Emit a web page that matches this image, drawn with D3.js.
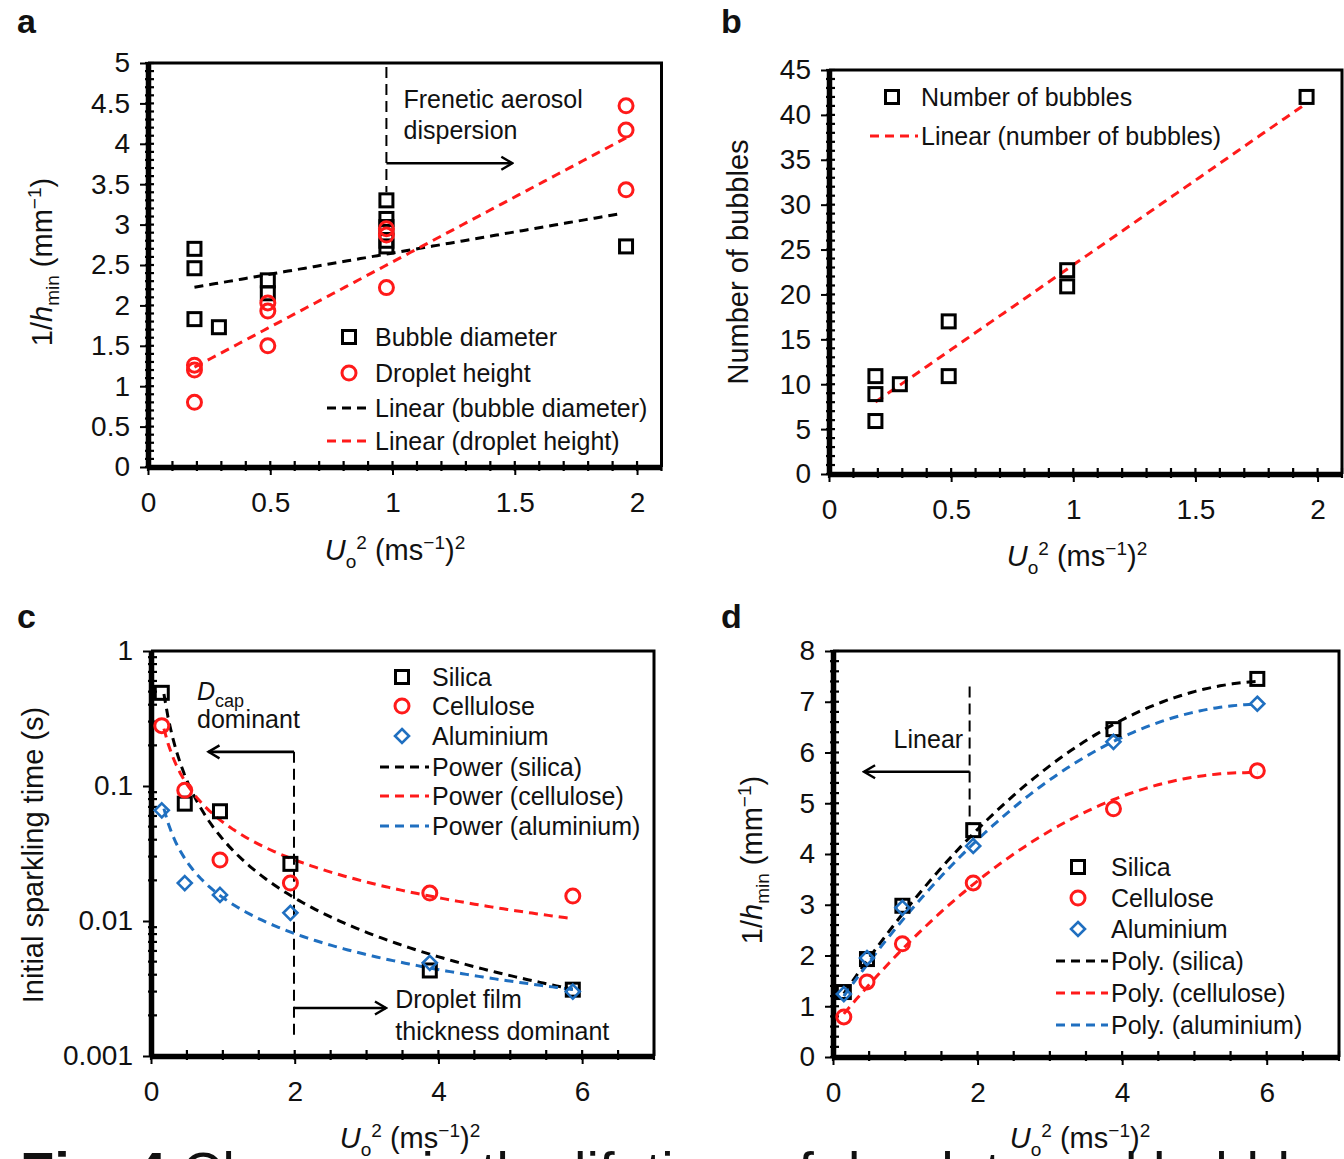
<!DOCTYPE html>
<html>
<head>
  <meta charset="utf-8">
  <title>Fig. 4</title>
  <script src="https://cdn.jsdelivr.net/npm/d3@7"></script>
  <style>
    body { margin: 0; background: #fff; }
    svg text { font-family: "Liberation Sans", Arial, sans-serif; fill: #111; }
  </style>
</head>
<body>
  <svg id="fig" width="1344" height="1159"></svg>
  <script>
    // ---- panel a : 1/hmin vs Uo^2
    var bubbleX = [0.19, 0.19, 0.19, 0.29, 0.49, 0.49, 0.975, 0.975, 0.975, 0.975, 0.975, 1.955];
    var bubbleY = [2.7, 2.46, 1.83, 1.73, 2.31, 2.15, 3.3, 3.07, 2.97, 2.8, 2.73, 2.73];
    var dropX = [0.19, 0.19, 0.19, 0.49, 0.49, 0.49, 0.975, 0.975, 0.975, 1.955, 1.955, 1.955];
    var dropY = [1.26, 1.2, 0.8, 2.03, 1.93, 1.5, 2.95, 2.87, 2.22, 4.47, 4.17, 3.43];
    var bubbleFit = [2.125, 0.523];   // intercept, slope
    var dropFit = [0.93, 1.608];

    // ---- panel b : number of bubbles
    var countX = [0.19, 0.19, 0.19, 0.29, 0.49, 0.49, 0.975, 0.975, 1.955];
    var countY = [10.9, 8.9, 5.9, 10, 17, 10.9, 22.7, 20.9, 42];
    var countFit = [4.43, 18.86];

    // ---- panels c, d : three materials
    var matX = [0.15, 0.47, 0.96, 1.94, 3.88, 5.87];
    var silicaTime = [0.49, 0.074, 0.065, 0.0265, 0.0043, 0.0031];
    var celluloseTime = [0.28, 0.093, 0.0283, 0.0191, 0.0161, 0.0153];
    var aluminiumTime = [0.066, 0.0191, 0.0156, 0.0115, 0.0049, 0.0030];
    var silicaPow = [0.0403, -1.445];  // a * x^b
    var cellulosePow = [0.054, -0.93];
    var aluminiumPow = [0.0149, -0.885];

    var silicaH = [1.28, 1.93, 2.98, 4.47, 6.46, 7.45];
    var celluloseH = [0.79, 1.48, 2.23, 3.43, 4.89, 5.64];
    var aluminiumH = [1.24, 1.95, 2.94, 4.16, 6.21, 6.96];
    var silicaPoly = [0.935, 2.124, -0.1742];
    var cellulosePoly = [0.592, 1.741, -0.1512];
    var aluminiumPoly = [0.899, 2.033, -0.1707];

    var ticksA = [0, 0.5, 1, 1.5, 2, 2.5, 3, 3.5, 4, 4.5, 5];
    var ticksB = [0, 5, 10, 15, 20, 25, 30, 35, 40, 45];
    var ticksX2 = [0, 0.5, 1, 1.5, 2];
    var ticksX6 = [0, 2, 4, 6];
    var ticksC = [0.001, 0.01, 0.1, 1];
    var ticksD = [0, 1, 2, 3, 4, 5, 6, 7, 8];

    var RED = "#ff1a1a", BLUE = "#1f6fc0", BLACK = "#000";
    var TICK_FONT = "28px", TEXT_FONT = "25px", TITLE_FONT = "29px";

    var svg = d3.select("#fig");

    var defs = svg.append("defs");
    defs.append("marker")
      .attr("id", "arr")
      .attr("viewBox", "0 0 16 16")
      .attr("refX", 14).attr("refY", 8)
      .attr("markerWidth", 16).attr("markerHeight", 16)
      .attr("markerUnits", "userSpaceOnUse")
      .attr("orient", "auto")
      .append("path")
      .attr("d", "M3,1.5 L14,8 L3,14.5")
      .attr("fill", "none").attr("stroke", "#000").attr("stroke-width", 2.4);

    function fmtNum(d) { return String(d); }

    // axes + frame for one panel
    function frame(x, y, xt, yt, xMinor, yMinor) {
      var g = svg.append("g");
      var x0 = x.range()[0], x1 = x.range()[1];
      var y0 = y.range()[0], y1 = y.range()[1];

      // top / right border
      g.append("path")
        .attr("d", "M" + x0 + "," + y1 + "H" + x1 + "V" + y0)
        .attr("fill", "none").attr("stroke", "#000").attr("stroke-width", 3);

      var gx = g.append("g")
        .attr("transform", "translate(0," + y0 + ")")
        .call(d3.axisBottom(x).tickValues(xt).tickSize(8).tickSizeOuter(0).tickPadding(17).tickFormat(fmtNum));
      var gy = g.append("g")
        .attr("transform", "translate(" + x0 + ",0)")
        .call(d3.axisLeft(y).tickValues(yt).tickSize(8).tickSizeOuter(0).tickPadding(10).tickFormat(fmtNum));

      [gx, gy].forEach(function (a) {
        a.select(".domain").attr("stroke-width", 5.5);
        a.selectAll(".tick line").attr("stroke-width", 2);
        a.selectAll(".tick text").style("font-size", TICK_FONT).attr("fill", "#111");
      });

      // minor ticks (the dotted look along the axes)
      g.selectAll(".mx").data(xMinor).enter().append("line")
        .attr("x1", function (d) { return x(d); }).attr("x2", function (d) { return x(d); })
        .attr("y1", y0 - 6).attr("y2", y0 + 4)
        .attr("stroke", "#000").attr("stroke-width", 2.2);
      g.selectAll(".my").data(yMinor).enter().append("line")
        .attr("y1", function (d) { return y(d); }).attr("y2", function (d) { return y(d); })
        .attr("x1", x0 - 3).attr("x2", x0 + 6)
        .attr("stroke", "#000").attr("stroke-width", 2.2);
      return g;
    }

    function marks(g, x, y, xs, ys, shape, color) {
      var pts = xs.map(function (d, i) { return [x(d), y(ys[i])]; });
      pts.forEach(function (p) { drawMarker(g, p[0], p[1], shape, color); });
    }

    function drawMarker(g, cx, cy, shape, color) {
      if (shape === "square") {
        g.append("rect").attr("x", cx - 6.5).attr("y", cy - 6.5).attr("width", 13).attr("height", 13)
          .attr("fill", "none").attr("stroke", color).attr("stroke-width", 3);
      } else if (shape === "circle") {
        g.append("circle").attr("cx", cx).attr("cy", cy).attr("r", 7)
          .attr("fill", "none").attr("stroke", color).attr("stroke-width", 3);
      } else if (shape === "diamond") {
        g.append("path").attr("d", "M" + cx + "," + (cy - 7) + "L" + (cx + 7) + "," + cy + "L" + cx + "," + (cy + 7) + "L" + (cx - 7) + "," + cy + "Z")
          .attr("fill", "none").attr("stroke", color).attr("stroke-width", 2.6);
      }
    }

    function trend(g, x, y, f, xFrom, xTo, color) {
      var pts = d3.range(0, 101).map(function (i) {
        var v = xFrom + (xTo - xFrom) * i / 100;
        return [v, f(v)];
      });
      g.append("path")
        .datum(pts)
        .attr("d", d3.line().x(function (d) { return x(d[0]); }).y(function (d) { return y(d[1]); }))
        .attr("fill", "none").attr("stroke", color).attr("stroke-width", 3)
        .attr("stroke-dasharray", "9,6");
    }

    function legend(g, mx, tx, ys, items) {
      items.forEach(function (it, i) {
        var yy = ys[i];
        if (it.shape === "line") {
          g.append("line").attr("x1", mx - 22).attr("x2", tx - 3).attr("y1", yy).attr("y2", yy)
            .attr("stroke", it.color).attr("stroke-width", 3).attr("stroke-dasharray", "9,6");
        } else {
          drawMarker(g, mx, yy, it.shape, it.color);
        }
        g.append("text").attr("x", tx).attr("y", yy).attr("dy", "0.35em")
          .style("font-size", TEXT_FONT).text(it.label);
      });
    }

    function panelLetter(t, px, py) {
      svg.append("text").attr("x", px).attr("y", py).text(t)
        .style("font-size", "34px").style("font-weight", "bold").attr("fill", "#000");
    }

    function xLabel(cx, cy) {
      var t = svg.append("text").attr("x", cx).attr("y", cy).attr("text-anchor", "middle").style("font-size", TITLE_FONT);
      t.append("tspan").style("font-style", "italic").text("U");
      t.append("tspan").style("font-size", "19px").attr("dy", 8).text("o");
      t.append("tspan").style("font-size", "19px").attr("dy", -19).text("2");
      t.append("tspan").attr("dy", 11).text(" (ms");
      t.append("tspan").style("font-size", "19px").attr("dy", -11).text("\u22121");
      t.append("tspan").attr("dy", 11).text(")");
      t.append("tspan").style("font-size", "19px").attr("dy", -11).text("2");
    }

    function yLabelH(cx, cy) {
      var t = svg.append("text").attr("transform", "translate(" + cx + "," + cy + ") rotate(-90)")
        .attr("text-anchor", "middle").style("font-size", TITLE_FONT);
      t.append("tspan").text("1/");
      t.append("tspan").style("font-style", "italic").text("h");
      t.append("tspan").style("font-size", "19px").attr("dy", 7).text("min");
      t.append("tspan").attr("dy", -7).text(" (mm");
      t.append("tspan").style("font-size", "19px").attr("dy", -11).text("\u22121");
      t.append("tspan").attr("dy", 11).text(")");
    }

    function yLabel(cx, cy, s) {
      svg.append("text").attr("transform", "translate(" + cx + "," + cy + ") rotate(-90)")
        .attr("text-anchor", "middle").style("font-size", TITLE_FONT).text(s);
    }

    function vdash(g, x, y, xv, ya, yb) {
      g.append("line").attr("x1", x(xv)).attr("x2", x(xv)).attr("y1", y(ya)).attr("y2", y(yb))
        .attr("stroke", "#000").attr("stroke-width", 2).attr("stroke-dasharray", "11,6");
    }

    function arrow(g, x, y, xa, xb, yv) {
      g.append("line").attr("x1", x(xa)).attr("x2", x(xb)).attr("y1", y(yv)).attr("y2", y(yv))
        .attr("stroke", "#000").attr("stroke-width", 2.6).attr("marker-end", "url(#arr)");
    }

    function note(g, x, y, xv, yv, s, anchor) {
      return g.append("text").attr("x", x(xv)).attr("y", y(yv)).attr("dy", "0.35em")
        .attr("text-anchor", anchor || "start").style("font-size", TEXT_FONT).text(s);
    }

    function range(a, b, step) {
      return d3.range(Math.round((b - a) / step) + 1).map(function (i) { return +(a + i * step).toFixed(4); });
    }

    // ================= panel a
    var xa = d3.scaleLinear().domain([0, 2.1]).range([148, 661.5]);
    var ya = d3.scaleLinear().domain([0, 5]).range([467, 63]);
    var ga = frame(xa, ya, ticksX2, ticksA, range(0, 2.1, 0.1), range(0, 5, 0.1));
    vdash(ga, xa, ya, 0.975, 4.95, 3.4);
    arrow(ga, xa, ya, 0.975, 1.49, 3.76);
    note(ga, xa, ya, 1.045, 4.55, "Frenetic aerosol");
    note(ga, xa, ya, 1.045, 4.17, "dispersion");
    trend(ga, xa, ya, function (v) { return bubbleFit[0] + bubbleFit[1] * v; }, 0.19, 1.93, BLACK);
    trend(ga, xa, ya, function (v) { return dropFit[0] + dropFit[1] * v; }, 0.19, 1.955, RED);
    marks(ga, xa, ya, bubbleX, bubbleY, "square", BLACK);
    marks(ga, xa, ya, dropX, dropY, "circle", RED);
    legend(ga, 349, 375, [337, 373, 408, 441], [
      { shape: "square", color: BLACK, label: "Bubble diameter" },
      { shape: "circle", color: RED, label: "Droplet height" },
      { shape: "line", color: BLACK, label: "Linear (bubble diameter)" },
      { shape: "line", color: RED, label: "Linear (droplet height)" }
    ]);
    panelLetter("a", 17, 33);
    xLabel(395, 560);
    yLabelH(52, 262);

    // ================= panel b
    var xb = d3.scaleLinear().domain([0, 2.1]).range([829, 1342]);
    var yb = d3.scaleLinear().domain([0, 45]).range([474, 70]);
    var gb = frame(xb, yb, ticksX2, ticksB, range(0, 2.1, 0.1), range(0, 45, 1));
    trend(gb, xb, yb, function (v) { return countFit[0] + countFit[1] * v; }, 0.19, 1.955, RED);
    marks(gb, xb, yb, countX, countY, "square", BLACK);
    legend(gb, 892, 921, [97, 136], [
      { shape: "square", color: BLACK, label: "Number of bubbles" },
      { shape: "line", color: RED, label: "Linear (number of bubbles)" }
    ]);
    panelLetter("b", 721, 33);
    xLabel(1077, 566);
    yLabel(748, 262, "Number of bubbles");

    // ================= panel c
    var xc = d3.scaleLinear().domain([0, 7]).range([151, 654]);
    var yc = d3.scaleLog().domain([0.001, 1]).range([1056, 651]);
    var cMinor = [];
    [0.001, 0.01, 0.1].forEach(function (dec) { d3.range(2, 10).forEach(function (k) { cMinor.push(dec * k); }); });
    var gc = frame(xc, yc, ticksX6, ticksC, range(0, 7, 0.5), cMinor);
    vdash(gc, xc, yc, 1.99, 0.179, 0.00135);
    arrow(gc, xc, yc, 1.99, 0.8, 0.179);
    arrow(gc, xc, yc, 1.99, 3.27, 0.00227);
    var dc = gc.append("text").attr("x", xc(0.64)).attr("y", yc(0.5)).attr("dy", "0.35em").style("font-size", TEXT_FONT);
    dc.append("tspan").style("font-style", "italic").text("D");
    dc.append("tspan").style("font-size", "18px").attr("dy", 7).text("cap");
    note(gc, xc, yc, 0.64, 0.31, "dominant");
    note(gc, xc, yc, 3.4, 0.00262, "Droplet film");
    note(gc, xc, yc, 3.4, 0.00153, "thickness dominant");
    trend(gc, xc, yc, function (v) { return silicaPow[0] * Math.pow(v, silicaPow[1]); }, 0.18, 5.87, BLACK);
    trend(gc, xc, yc, function (v) { return cellulosePow[0] * Math.pow(v, cellulosePow[1]); }, 0.18, 5.87, RED);
    trend(gc, xc, yc, function (v) { return aluminiumPow[0] * Math.pow(v, aluminiumPow[1]); }, 0.18, 5.87, BLUE);
    marks(gc, xc, yc, matX, silicaTime, "square", BLACK);
    marks(gc, xc, yc, matX, celluloseTime, "circle", RED);
    marks(gc, xc, yc, matX, aluminiumTime, "diamond", BLUE);
    legend(gc, 402, 432, [677, 706, 736, 767, 796, 826], [
      { shape: "square", color: BLACK, label: "Silica" },
      { shape: "circle", color: RED, label: "Cellulose" },
      { shape: "diamond", color: BLUE, label: "Aluminium" },
      { shape: "line", color: BLACK, label: "Power (silica)" },
      { shape: "line", color: RED, label: "Power (cellulose)" },
      { shape: "line", color: BLUE, label: "Power (aluminium)" }
    ]);
    panelLetter("c", 17, 628);
    yLabel(43, 855, "Initial sparkling time (s)");

    // ================= panel d
    var xd = d3.scaleLinear().domain([0, 7]).range([833, 1339]);
    var yd = d3.scaleLinear().domain([0, 8]).range([1057, 651]);
    var gd = frame(xd, yd, ticksX6, ticksD, range(0, 7, 0.5), range(0, 8, 0.2));
    vdash(gd, xd, yd, 1.89, 7.3, 4.6);
    arrow(gd, xd, yd, 1.89, 0.43, 5.62);
    note(gd, xd, yd, 1.8, 6.27, "Linear", "end");
    function poly(c) { return function (v) { return c[0] + c[1] * v + c[2] * v * v; }; }
    trend(gd, xd, yd, poly(silicaPoly), 0.15, 5.87, BLACK);
    trend(gd, xd, yd, poly(cellulosePoly), 0.15, 5.87, RED);
    trend(gd, xd, yd, poly(aluminiumPoly), 0.15, 5.87, BLUE);
    marks(gd, xd, yd, matX, silicaH, "square", BLACK);
    marks(gd, xd, yd, matX, celluloseH, "circle", RED);
    marks(gd, xd, yd, matX, aluminiumH, "diamond", BLUE);
    legend(gd, 1078, 1111, [867, 898, 929, 961, 993, 1025], [
      { shape: "square", color: BLACK, label: "Silica" },
      { shape: "circle", color: RED, label: "Cellulose" },
      { shape: "diamond", color: BLUE, label: "Aluminium" },
      { shape: "line", color: BLACK, label: "Poly. (silica)" },
      { shape: "line", color: RED, label: "Poly. (cellulose)" },
      { shape: "line", color: BLUE, label: "Poly. (aluminium)" }
    ]);
    panelLetter("d", 721, 628);
    yLabelH(762, 860);

    // x labels of the lower row, partly hidden by the caption
    xLabel(410, 1148);
    xLabel(1080, 1148);

    // caption line, cut off by the page bottom (only ascenders show)
    var cap = svg.append("text").attr("x", 20).attr("y", 1191)
      .style("font-size", "56px").attr("fill", "#000");
    cap.append("tspan").style("font-weight", "bold").text("Fig. 4");
    cap.append("tspan").text(" Changes in the lifetime of droplets and bubbles");
  </script>
</body>
</html>
